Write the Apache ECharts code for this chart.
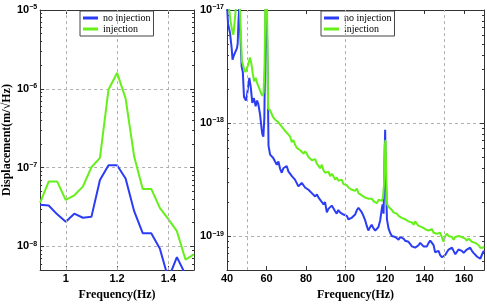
<!DOCTYPE html>
<html><head><meta charset="utf-8">
<script src="https://cdn.jsdelivr.net/npm/echarts@6/dist/echarts.min.js"></script>
<style>html,body{margin:0;padding:0;background:#fff}#c{width:487px;height:306px}</style>
</head><body><div id="c"></div>
<script>
// ---------- data ----------
const seriesNames = ['no injection', 'injection'];

// left panel (Hz, m/sqrt(Hz))
const freqLeft = [0.9, 0.9333, 0.9667, 1.0, 1.0333, 1.0667, 1.1, 1.1333, 1.1667, 1.2,
  1.2333, 1.2667, 1.3, 1.3333, 1.3667, 1.4, 1.4333, 1.4667, 1.5];
const noInjLeft = [3.37e-8, 3.3e-8, 2.55e-8, 2.06e-8, 2.6e-8, 2.31e-8, 2.37e-8, 6.96e-8, 1.07e-7, 1.07e-7,
  7.28e-8, 2.8e-8, 1.47e-8, 1.47e-8, 9.4e-9, 3.9e-9, 7.3e-9, 4.4e-9, 4.0e-9];
const injLeft = [3.6e-8, 6.64e-8, 6.64e-8, 3.88e-8, 4.45e-8, 5.73e-8, 1.01e-7, 1.33e-7, 9.8e-7, 1.59e-6,
  7.55e-7, 1.38e-7, 5.36e-8, 5.36e-8, 3.08e-8, 2.22e-8, 1.56e-8, 6.8e-9, 7.9e-9];
const leftXTicks = [1, 1.2, 1.4];

// right panel: values in units of 1e-19 m/sqrt(Hz)
const unitRight = 1e-19;
const freqNoInjRight = [
  40.0,40.5,41.5,42.4,42.8,43.5,44.1,45.0,45.4,45.8,
  46.2,47.0,47.4,48.0,48.6,49.6,50.3,51.3,52.0,52.8,
  53.6,54.5,55.2,55.8,56.7,57.5,57.9,58.4,58.9,59.4,
  59.8,60.2,60.6,61.0,61.8,62.6,63.4,64.3,65.2,66.0,
  66.8,67.7,68.5,69.4,70.2,71.1,72.0,72.8,73.6,74.4,
  75.3,76.1,77.0,77.8,78.7,79.5,80.4,81.2,82.0,82.9,
  83.8,84.6,85.5,86.3,87.1,88.0,88.8,89.6,90.5,91.3,
  92.2,93.0,93.8,94.7,95.5,96.3,97.2,98.0,98.9,99.7,
  100.6,101.4,102.3,103.1,104.0,104.8,105.7,106.5,107.3,108.2,
  109.0,109.9,110.7,111.5,112.4,113.2,114.1,115.0,115.8,116.6,
  117.5,118.3,118.7,119.2,119.6,120.0,120.4,120.9,121.7,122.5,
  123.4,124.2,125.1,125.9,126.8,127.6,128.4,129.3,130.1,131.0,
  131.8,132.7,133.5,134.4,135.2,136.0,136.9,137.7,138.6,139.4,
  140.3,141.1,142.0,142.8,143.7,144.5,145.3,146.2,147.0,147.8,
  148.7,149.5,150.4,151.2,152.1,152.9,153.8,154.6,155.5,156.3,
  157.1,158.0,158.8,159.7,160.5,161.3,162.2,163.0,163.9,164.7,
  165.6,166.4,167.3,168.1,168.9,169.5,170.0];
const noInjRight = [
  112,76,63,45,36.3,39.8,39.8,45.7,50.1,79.4,
  107,107,31.6,28.2,17.0,15.8,18.6,25.1,20.9,15.1,
  16.6,14.1,15.8,14.8,12.0,8.91,7.94,7.59,11.2,63.1,
  200,200,25.1,6.31,5.25,5.13,4.90,4.57,4.27,4.57,
  3.98,3.63,3.98,4.07,4.17,3.72,3.55,3.39,3.47,3.16,
  3.16,2.75,2.82,2.95,3.02,2.69,2.75,2.57,2.63,2.40,
  2.45,2.24,2.34,2.19,2.14,2.00,1.91,2.00,1.62,1.74,
  1.78,1.86,1.82,1.66,1.58,1.70,1.62,1.66,1.55,1.55,
  1.51,1.41,1.41,1.45,1.51,1.55,1.70,1.78,1.74,1.62,
  1.51,1.38,1.23,1.12,1.20,1.26,1.17,1.12,1.10,1.20,
  1.38,1.74,1.91,1.58,3.98,8.71,3.16,1.41,1.17,1.07,
  1.00,0.98,0.98,0.95,0.93,0.98,1.00,0.95,0.91,0.89,
  0.89,0.85,0.81,0.83,0.79,0.79,0.83,0.87,0.85,0.81,
  0.83,0.81,0.87,0.91,0.93,0.83,0.72,0.71,0.74,0.68,
  0.65,0.63,0.68,0.72,0.76,0.78,0.79,0.74,0.69,0.68,
  0.76,0.79,0.74,0.71,0.69,0.76,0.78,0.79,0.74,0.71,
  0.69,0.66,0.65,0.63,0.68,0.72,0.74];
const freqInjRight = [
  40.0,41.0,41.8,42.6,43.2,43.8,44.5,45.5,46.5,47.0,
  47.5,48.0,48.6,49.3,50.0,50.8,51.6,52.4,53.0,53.7,
  54.5,55.3,56.0,56.7,57.3,57.9,58.5,59.0,59.5,60.0,
  60.4,60.8,61.8,62.6,63.4,64.3,65.1,65.9,66.8,67.6,
  68.5,69.4,70.2,71.0,71.9,72.8,73.6,74.4,75.3,76.1,
  77.0,77.8,78.7,79.5,80.3,81.2,82.0,82.9,83.7,84.6,
  85.4,86.3,87.1,88.0,88.8,89.6,90.5,91.3,92.2,93.0,
  93.8,94.7,95.5,96.3,97.2,98.0,98.9,99.7,100.6,101.4,
  102.3,103.1,104.0,104.8,105.7,106.5,107.3,108.2,109.0,109.9,
  110.7,111.6,112.4,113.3,114.1,115.0,115.8,116.7,117.5,118.3,
  118.9,119.4,119.8,120.2,120.6,121.0,121.7,122.5,123.4,124.2,
  125.1,125.9,126.8,127.6,128.4,129.3,130.1,131.0,131.8,132.7,
  133.5,134.4,135.2,136.0,136.9,137.7,138.6,139.4,140.3,141.1,
  142.0,142.8,143.7,144.5,145.3,146.2,147.0,147.8,148.7,149.5,
  150.4,151.2,152.1,152.9,153.8,154.6,155.5,156.3,157.1,158.0,
  158.8,159.7,160.5,161.3,162.2,163.0,163.9,164.7,165.6,166.4,
  167.3,168.1,168.9,169.5,170.0];
const injRight = [
  126,105,79.4,66.1,60.3,75.9,105,112,105,63.1,
  35.5,33.1,30.2,28.2,28.8,33.1,38.0,33.1,27.5,23.4,
  25.1,22.4,21.9,19.5,18.2,17.4,18.6,31.6,158,251,
  63.1,13.5,12.9,12.6,11.2,10.7,11.0,10.2,10.0,9.33,
  9.55,8.51,8.32,7.94,7.59,6.76,7.08,6.46,6.03,6.17,
  5.75,5.89,5.37,5.62,5.37,5.01,5.13,4.68,4.57,4.79,
  4.37,4.17,3.98,4.27,3.80,3.63,3.55,3.72,3.39,3.55,
  3.39,3.16,3.31,3.09,3.02,3.16,2.88,2.82,2.82,2.69,
  2.75,2.57,2.57,2.51,2.63,2.40,2.40,2.29,2.34,2.19,
  2.24,2.14,2.09,2.14,2.04,2.00,1.95,2.1,2.1,2.05,
  2.19,2.82,6.31,7.08,3.16,1.91,1.82,1.78,1.70,1.62,
  1.66,1.58,1.51,1.55,1.45,1.48,1.41,1.45,1.35,1.38,
  1.32,1.26,1.35,1.29,1.23,1.26,1.20,1.20,1.15,1.17,
  1.12,1.12,1.15,1.07,1.10,1.05,1.02,1.07,0.98,0.89,
  1.00,1.05,1.00,1.02,0.98,0.93,0.98,0.95,1.00,1.02,
  0.98,1.00,0.95,0.91,0.95,0.93,0.89,0.91,0.87,0.87,
  0.83,0.79,0.78,0.79,0.81];
const rightXTicks = [40, 60, 80, 100, 120, 140, 160];
const rightGridX = [50, 100, 150];

// ---------- styling ----------
const BLUE = '#2b3cf5', GREEN = '#66f01a';
const AX = '#333', GRIDC = '#b0b0b0';
const SANS = 'Liberation Sans, Arial, sans-serif';
const SERIF = 'Liberation Serif, DejaVu Serif, serif';

function minorList(lo, hi) {
  const out = [];
  for (let e = lo; e < hi; e++) for (let m = 2; m <= 9; m++) out.push(+(m + 'e' + e));
  return out;
}
const minorLeft = minorList(-9, -5).filter(v => v >= 5e-9 && v <= 1e-5);
const minorRight = minorList(-20, -17).filter(v => v >= 5e-20 && v <= 1e-17);

function powLabel(v) {
  const l = Math.log10(v), e = Math.round(l);
  if (Math.abs(l - e) > 1e-6) return '';
  return '{b|10}{s|\u2212' + Math.abs(e) + '}';
}
const richPow = {
  b: {fontFamily: SANS, fontWeight: 'bold', fontSize: 11, color: '#000'},
  s: {fontFamily: SANS, fontWeight: 'bold', fontSize: 7, color: '#000', verticalAlign: 'top', padding: [0, 0, 5, 0]}
};

function xAx(grid, min, max, pos, extra) {
  return Object.assign({
    type: 'value', gridIndex: grid, min: min, max: max, position: pos,
    axisLine: {show: true, onZero: false, lineStyle: {color: AX, width: 1}},
    axisTick: {show: true, inside: true, length: 4, lineStyle: {color: AX}},
    axisLabel: {show: false},
    splitLine: {show: false}
  }, extra);
}
function yAx(grid, min, max, pos, extra) {
  return Object.assign({
    type: 'log', logBase: 10, gridIndex: grid, min: min, max: max, position: pos,
    axisLine: {show: true, onZero: false, lineStyle: {color: AX, width: 1}},
    axisTick: {show: true, inside: true, length: 4, lineStyle: {color: AX}},
    axisLabel: {show: false},
    splitLine: {show: false}
  }, extra);
}
const xLabel = {show: true, margin: 3, fontFamily: SANS, fontWeight: 'bold', fontSize: 11, color: '#000'};
const xName = {name: 'Frequency(Hz)', nameLocation: 'middle', nameGap: 8,
  nameTextStyle: {fontFamily: SERIF, fontWeight: 'bold', fontSize: 12, color: '#000'}};
const dashed = {show: true, lineStyle: {color: GRIDC, type: [3, 3], width: 1}};

const option = {
  animation: false,
  backgroundColor: '#fff',
  grid: [
    {left: 34, top: 10, width: 160, height: 272},
    {left: 227, top: 10, width: 257, height: 272}
  ],
  legend: [0, 1].map(i => ({
    data: seriesNames, left: i === 0 ? 80 : 321, top: 11, orient: 'vertical',
    backgroundColor: '#fff', borderColor: '#444', borderWidth: 1, borderRadius: 0,
    padding: [2, 3, 2, 3], itemGap: 1, itemWidth: 15, itemHeight: 3, icon: 'rect',
    textStyle: {fontFamily: SERIF, fontSize: 10, color: '#000'}
  })),
  xAxis: [
    xAx(0, 0.9, 1.5, 'bottom', Object.assign({
      axisTick: {show: true, inside: true, length: 4, lineStyle: {color: AX}, customValues: leftXTicks},
      axisLabel: Object.assign({}, xLabel, {customValues: leftXTicks, formatter: v => String(v)})
    }, xName)),
    xAx(0, 0.9, 1.5, 'top', {axisTick: {show: true, inside: true, length: 4, lineStyle: {color: AX}, customValues: leftXTicks}}),
    xAx(1, 40, 170, 'bottom', Object.assign({
      interval: 20,
      axisLabel: Object.assign({}, xLabel, {formatter: v => (v % 20 === 0 && v <= 160) ? String(v) : ''})
    }, xName)),
    xAx(1, 40, 170, 'top', {interval: 20})
  ],
  yAxis: [
    yAx(0, 5e-9, 1e-5, 'left', {
      axisLabel: {show: true, margin: 3, formatter: powLabel, rich: richPow},
      splitLine: dashed,
      name: 'Displacement(m/\u221AHz)', nameLocation: 'middle', nameGap: 19,
      nameTextStyle: {fontFamily: SERIF, fontWeight: 'bold', fontSize: 12, color: '#000'}
    }),
    yAx(0, 5e-9, 1e-5, 'right', {}),
    yAx(1, 5e-20, 1e-17, 'left', {
      axisLabel: {show: true, margin: 3, formatter: powLabel, rich: richPow},
      splitLine: dashed
    }),
    yAx(1, 5e-20, 1e-17, 'right', {}),
    yAx(0, 5e-9, 1e-5, 'left', {axisLine: {show: false}, axisTick: {show: true, inside: true, length: 2, lineStyle: {color: AX}, customValues: minorLeft}}),
    yAx(0, 5e-9, 1e-5, 'right', {axisLine: {show: false}, axisTick: {show: true, inside: true, length: 2, lineStyle: {color: AX}, customValues: minorLeft}}),
    yAx(1, 5e-20, 1e-17, 'left', {axisLine: {show: false}, axisTick: {show: true, inside: true, length: 2, lineStyle: {color: AX}, customValues: minorRight}}),
    yAx(1, 5e-20, 1e-17, 'right', {axisLine: {show: false}, axisTick: {show: true, inside: true, length: 2, lineStyle: {color: AX}, customValues: minorRight}})
  ],
  series: [
    {
      name: seriesNames[0], type: 'line', xAxisIndex: 0, yAxisIndex: 0, showSymbol: false, symbol: 'none',
      lineStyle: {color: BLUE, width: 2}, itemStyle: {color: BLUE},
      data: freqLeft.map((f, i) => [f, noInjLeft[i]]),
      markLine: {silent: true, symbol: 'none', label: {show: false}, animation: false,
        lineStyle: {color: GRIDC, type: [3, 3], width: 1},
        data: leftXTicks.map(v => ({xAxis: v}))}
    },
    {
      name: seriesNames[1], type: 'line', xAxisIndex: 0, yAxisIndex: 0, showSymbol: false, symbol: 'none',
      lineStyle: {color: GREEN, width: 2}, itemStyle: {color: GREEN},
      data: freqLeft.map((f, i) => [f, injLeft[i]])
    },
    {
      name: seriesNames[0], type: 'line', xAxisIndex: 2, yAxisIndex: 2, showSymbol: false, symbol: 'none',
      lineStyle: {color: BLUE, width: 2}, itemStyle: {color: BLUE},
      data: freqNoInjRight.map((f, i) => [f, noInjRight[i] * unitRight]),
      markLine: {silent: true, symbol: 'none', label: {show: false}, animation: false,
        lineStyle: {color: GRIDC, type: [3, 3], width: 1},
        data: rightGridX.map(v => ({xAxis: v}))}
    },
    {
      name: seriesNames[1], type: 'line', xAxisIndex: 2, yAxisIndex: 2, showSymbol: false, symbol: 'none',
      lineStyle: {color: GREEN, width: 2}, itemStyle: {color: GREEN},
      data: freqInjRight.map((f, i) => [f, injRight[i] * unitRight])
    }
  ]
};
const chart = echarts.init(document.getElementById('c'), null, {renderer: 'canvas'});
chart.setOption(option);
</script>
</body></html>
